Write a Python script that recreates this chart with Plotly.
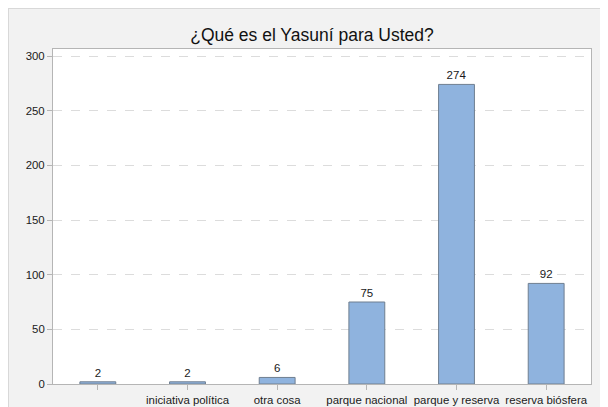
import plotly.graph_objects as go

categories = ["", "iniciativa política", "otra cosa", "parque nacional", "parque y reserva", "reserva biósfera"]
values = [2, 2, 6, 75, 274, 92]
y_ticks = [0, 50, 100, 150, 200, 250, 300]

W, H = 608, 407
L, R, T, B = 45, 25, 41, 31
pw, ph = W - L - R, H - T - B

fig = go.Figure()
fig.add_trace(go.Bar(
    x=list(range(len(categories))), y=values,
    text=[str(v) for v in values], textposition="outside",
    textfont=dict(size=11.5, color="#1a1a1a", family="Liberation Sans, Arial, sans-serif"),
    marker=dict(color="#8fb3de", line=dict(color="#6f7f90", width=1)),
    width=0.4, cliponaxis=False,
))

# faint border along the top and left edges of the figure
fig.add_shape(type="line", xref="paper", yref="paper",
              x0=-L / pw, x1=(W - L) / pw,
              y0=(ph + T - 0.5) / ph, y1=(ph + T - 0.5) / ph,
              line=dict(color="#d8d8d8", width=1))
fig.add_shape(type="line", xref="paper", yref="paper",
              x0=(0.5 - L) / pw, x1=(0.5 - L) / pw,
              y0=-B / ph, y1=(ph + T) / ph,
              line=dict(color="#d8d8d8", width=1))

fig.update_layout(
    width=W, height=H,
    margin=dict(l=L, r=R, t=T, b=B),
    paper_bgcolor="#f2f2f2", plot_bgcolor="white",
    font=dict(family="Liberation Sans, Arial, sans-serif", size=11.4, color="#1a1a1a"),
    title=dict(text="¿Qué es el Yasuní para Usted?", x=0.5, xanchor="center",
               y=1 - 27 / H, yanchor="middle",
               font=dict(size=17.5, color="#111111")),
    showlegend=False, bargap=0.6,
)
fig.update_xaxes(
    tickmode="array", tickvals=list(range(len(categories))), ticktext=categories,
    range=[-0.5, len(categories) - 0.5], automargin=False,
    showline=True, linecolor="#b5b5b5", linewidth=1, mirror=True,
    ticks="outside", ticklen=5, tickcolor="#b5b5b5", showgrid=False,
    tickfont=dict(size=11.4),
)
fig.update_yaxes(
    range=[0, 306.4], tickvals=y_ticks, automargin=False,
    showline=True, linecolor="#b5b5b5", linewidth=1, mirror=True,
    ticks="outside", ticklen=5, tickcolor="#b5b5b5",
    showgrid=True, gridcolor="#dcdcdc", griddash="dash", gridwidth=1,
    zeroline=False, tickfont=dict(size=11.4),
)

fig.write_html("out.html")
